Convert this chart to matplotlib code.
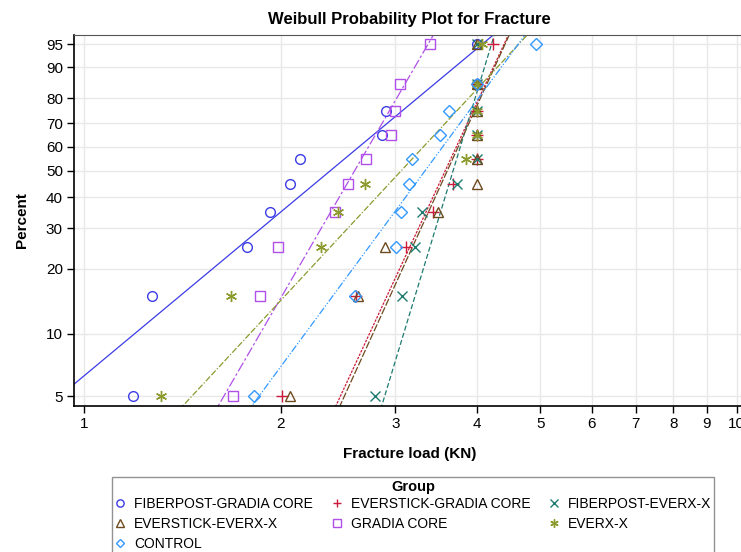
import numpy as np
import matplotlib.pyplot as plt

plt.rcParams['font.family'] = ['Liberation Sans', 'DejaVu Sans']

# groups in plotting order
groups = ['FIBERPOST-GRADIA CORE', 'EVERSTICK-GRADIA CORE', 'FIBERPOST-EVERX-X',
          'EVERSTICK-EVERX-X', 'GRADIA CORE', 'EVERX-X', 'CONTROL']

percent = [5, 15, 25, 35, 45, 55, 65, 75, 85, 95]

fiberpost_gradia = [1.19, 1.27, 1.78, 1.93, 2.07, 2.14, 2.86, 2.90, 4.0, 4.0]
everstick_gradia = [2.01, 2.61, 3.11, 3.43, 3.67, 4.0, 4.0, 4.0, 4.0, 4.23]
fiberpost_everx = [2.79, 3.07, 3.22, 3.30, 3.73, 4.0, 4.0, 4.0, 4.0, 4.0]
everstick_everx = [2.07, 2.63, 2.89, 3.49, 4.0, 4.0, 4.0, 4.0, 4.0, 4.0]
gradia_core = [1.69, 1.86, 1.98, 2.42, 2.54, 2.70, 2.95, 3.00, 3.05, 3.39]
everx = [1.31, 1.68, 2.31, 2.45, 2.69, 3.85, 4.0, 4.0, 4.0, 4.07]
control = [1.82, 2.60, 3.01, 3.06, 3.15, 3.18, 3.51, 3.63, 4.0, 4.92]

loads = [fiberpost_gradia, everstick_gradia, fiberpost_everx, everstick_everx,
         gradia_core, everx, control]

# fitted weibull lines (shape, scale)
shape = [2.73, 7.05, 10.8, 7.18, 5.65, 3.53, 4.45]
scale = [2.725, 3.766, 3.803, 3.790, 2.771, 3.395, 3.615]

colors = ['#3C3CE6', '#CC1A3A', '#1E7B70', '#6E4B1F', '#B050E8', '#8C9A2E', '#3399FF']
markers = ['o', '+', 'x', '^', 's', (6, 2, 0), 'D']
msizes = [7, 8, 7, 7, 7, 8, 6]
styles = ['-', (0, (2, 1)), (0, (4, 2)), (0, (6, 1.5)), (0, (8, 2, 2, 2)),
          (0, (5, 1.5, 5, 1.5, 1, 1.5)), (0, (6, 1.5, 1, 1.5, 1, 1.5))]

xticks = [1, 2, 3, 4, 5, 6, 7, 8, 9, 10]
yticks = [5, 10, 20, 30, 40, 50, 60, 70, 80, 90, 95]


def fwd(p):
    p = np.clip(np.asarray(p, float), 1e-6, 100 - 1e-6)
    return np.log(-np.log(1 - p / 100.0))


def inv(w):
    return 100 * (1 - np.exp(-np.exp(np.asarray(w, float))))


fig = plt.figure(figsize=(7.41, 5.52), dpi=100)
ax = fig.add_axes([0.0999, 0.265, 0.9055, 0.6716])
ax.set_xscale('log')
ax.set_yscale('function', functions=(fwd, inv))
xlo, xhi = 0.9653, 10.297
ax.set_xlim(xlo, xhi)
ax.set_ylim(4.482, 96.44)

xx = np.geomspace(xlo, xhi, 400)
handles = []
for i in range(len(groups)):
    pp = 100 * (1 - np.exp(-(xx / scale[i]) ** shape[i]))
    ax.plot(xx, pp, color=colors[i], lw=0.9, linestyle=styles[i], zorder=2)
for i in range(len(groups)):
    h, = ax.plot(loads[i], percent, linestyle='none', marker=markers[i],
                 ms=msizes[i], mfc='none', mec=colors[i], mew=1.0, zorder=3,
                 label=groups[i])
    handles.append(h)

ax.set_xticks(xticks)
ax.set_xticklabels([str(t) for t in xticks])
ax.xaxis.set_minor_locator(plt.NullLocator())
ax.set_yticks(yticks)
ax.set_yticklabels([str(t) for t in yticks])
ax.yaxis.set_minor_locator(plt.NullLocator())
ax.tick_params(direction='out', length=5, width=1, labelsize=11, pad=3)
ax.grid(True, color='#E8E8E8', lw=1)
ax.set_axisbelow(True)

for s in ['left', 'bottom']:
    ax.spines[s].set_linewidth(1.2)
ax.spines['top'].set_color('#555555')
ax.spines['right'].set_color('#555555')

ax.set_title('Weibull Probability Plot for Fracture', fontsize=12, fontweight='bold', pad=8)
ax.set_xlabel('Fracture load (KN)', fontsize=11, fontweight='bold', labelpad=12)
ax.set_ylabel('Percent', fontsize=11, fontweight='bold', labelpad=12)

# legend, filled column-wise so that rows read like the original
order = [0, 3, 6, 1, 4, 2, 5]
leg = fig.legend([handles[k] for k in order], [groups[k] for k in order],
                 loc='upper left', bbox_to_anchor=(105 / 741, 1 - 470 / 552),
                 ncol=3, title='Group', fontsize=10, title_fontproperties={'weight': 'bold', 'size': 10.5},
                 frameon=True, fancybox=False, edgecolor='#777777', borderpad=0.2,
                 handlelength=0.8, handletextpad=0.6, columnspacing=1.3,
                 labelspacing=0.45, markerscale=0.75)
leg.get_frame().set_linewidth(1.0)
leg._legend_box.sep = 2

fig.savefig('out.png', dpi=100)
